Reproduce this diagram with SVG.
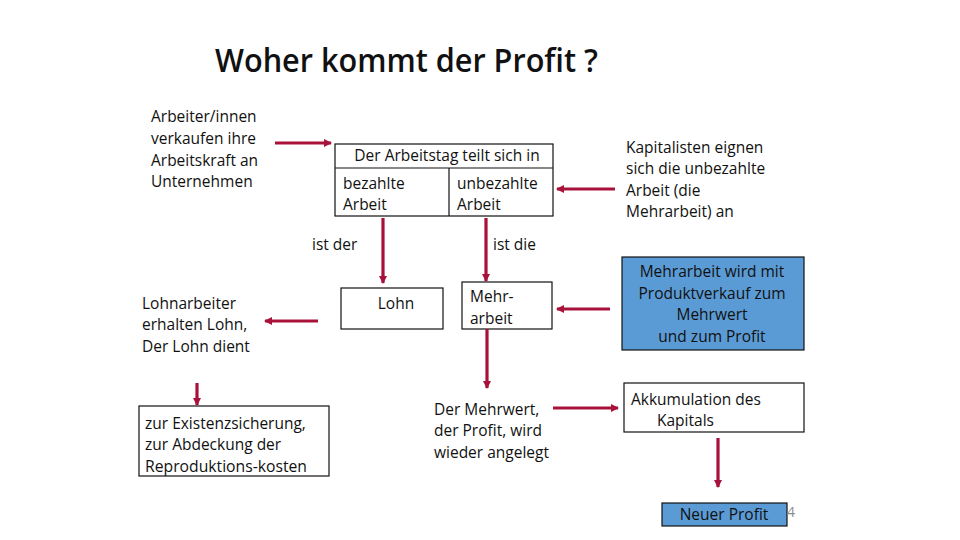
<svg xmlns="http://www.w3.org/2000/svg" width="960" height="540" viewBox="0 0 960 540">
<defs>
<marker id="ah" markerWidth="10" markerHeight="10" refX="7" refY="5" orient="auto" markerUnits="userSpaceOnUse">
<path d="M0,1 L8,5 L0,9 Z" fill="#a8123a"/>
</marker>
<style>
text{font-family:"Open Sans","Noto Sans",sans-serif;font-size:15.5px;fill:#111}
.box{fill:#fff;stroke:#111;stroke-width:1.2}
.blue{fill:#5b9bd5;stroke:#111;stroke-width:1.2}
.c{text-anchor:middle}
.conn line{stroke:#a8123a;stroke-width:3.2;marker-end:url(#ah)}
</style>
</defs>
<rect width="960" height="540" fill="#fff"/>
<text x="215" y="72" style="font-size:33px;font-weight:600" textLength="383" lengthAdjust="spacingAndGlyphs">Woher kommt der Profit ?</text>

<g id="arbeiter">
<text x="151" y="122">Arbeiter/innen</text>
<text x="151" y="144">verkaufen ihre</text>
<text x="151" y="166">Arbeitskraft an</text>
<text x="151" y="187">Unternehmen</text>
</g>

<g id="arbeitstag">
<rect class="box" x="335" y="144" width="218" height="72"/>
<line x1="335" y1="168" x2="553" y2="168" stroke="#111" stroke-width="1.2"/>
<line x1="449" y1="168" x2="449" y2="216" stroke="#111" stroke-width="1.2"/>
<text class="c" x="447" y="161">Der Arbeitstag teilt sich in</text>
<text x="343" y="189">bezahlte</text>
<text x="343" y="210">Arbeit</text>
<text x="457" y="189">unbezahlte</text>
<text x="457" y="210">Arbeit</text>
</g>

<g id="kapitalisten">
<text x="626" y="153">Kapitalisten eignen</text>
<text x="626" y="174">sich die unbezahlte</text>
<text x="626" y="196">Arbeit (die</text>
<text x="626" y="217">Mehrarbeit) an</text>
</g>

<g id="istder"><text x="312" y="250">ist der</text></g>
<g id="istdie"><text x="493" y="250">ist die</text></g>

<g id="lohn">
<rect class="box" x="341" y="288" width="102" height="41"/>
<text class="c" x="396" y="309">Lohn</text>
</g>

<g id="mehrarbeit">
<rect class="box" x="462" y="282" width="90" height="47"/>
<text x="470" y="302">Mehr-</text>
<text x="470" y="324">arbeit</text>
</g>

<g id="lohnarbeiter">
<text x="142" y="309">Lohnarbeiter</text>
<text x="142" y="330">erhalten Lohn,</text>
<text x="142" y="352">Der Lohn dient</text>
</g>

<g id="existenz">
<rect class="box" x="139" y="406" width="190" height="70"/>
<text x="145" y="429">zur Existenzsicherung,</text>
<text x="145" y="450">zur Abdeckung der</text>
<text x="145" y="472" textLength="162" lengthAdjust="spacingAndGlyphs">Reproduktions-kosten</text>
</g>

<g id="produktverkauf">
<rect class="blue" x="622" y="257" width="182" height="93"/>
<text class="c" x="712" y="277">Mehrarbeit wird mit</text>
<text class="c" x="712" y="299">Produktverkauf zum</text>
<text class="c" x="712" y="320">Mehrwert</text>
<text class="c" x="712" y="342">und zum Profit</text>
</g>

<g id="mehrwert">
<text x="434" y="415">Der Mehrwert,</text>
<text x="434" y="436">der Profit, wird</text>
<text x="434" y="458">wieder angelegt</text>
</g>

<g id="akkumulation">
<rect class="box" x="624" y="383" width="180" height="49"/>
<text x="631" y="405">Akkumulation des</text>
<text x="657" y="426">Kapitals</text>
</g>

<g id="neuerprofit">
<rect class="blue" x="662" y="503" width="125" height="23"/>
<text class="c" x="724" y="520">Neuer Profit</text>
</g>
<text x="787" y="517" style="fill:#8c8c8c;font-size:14px">4</text>

<g class="conn" id="connectors">
<line x1="275" y1="143" x2="331" y2="143"/>
<line x1="615" y1="189" x2="557" y2="189"/>
<line x1="383" y1="218" x2="383" y2="283"/>
<line x1="486" y1="218" x2="486" y2="281"/>
<line x1="610" y1="309" x2="557" y2="309"/>
<line x1="318" y1="321" x2="265" y2="321"/>
<line x1="487" y1="329" x2="487" y2="388"/>
<line x1="197" y1="383" x2="197" y2="405"/>
<line x1="553" y1="408" x2="618" y2="408"/>
<line x1="718" y1="438" x2="718" y2="487"/>
</g>
</svg>
